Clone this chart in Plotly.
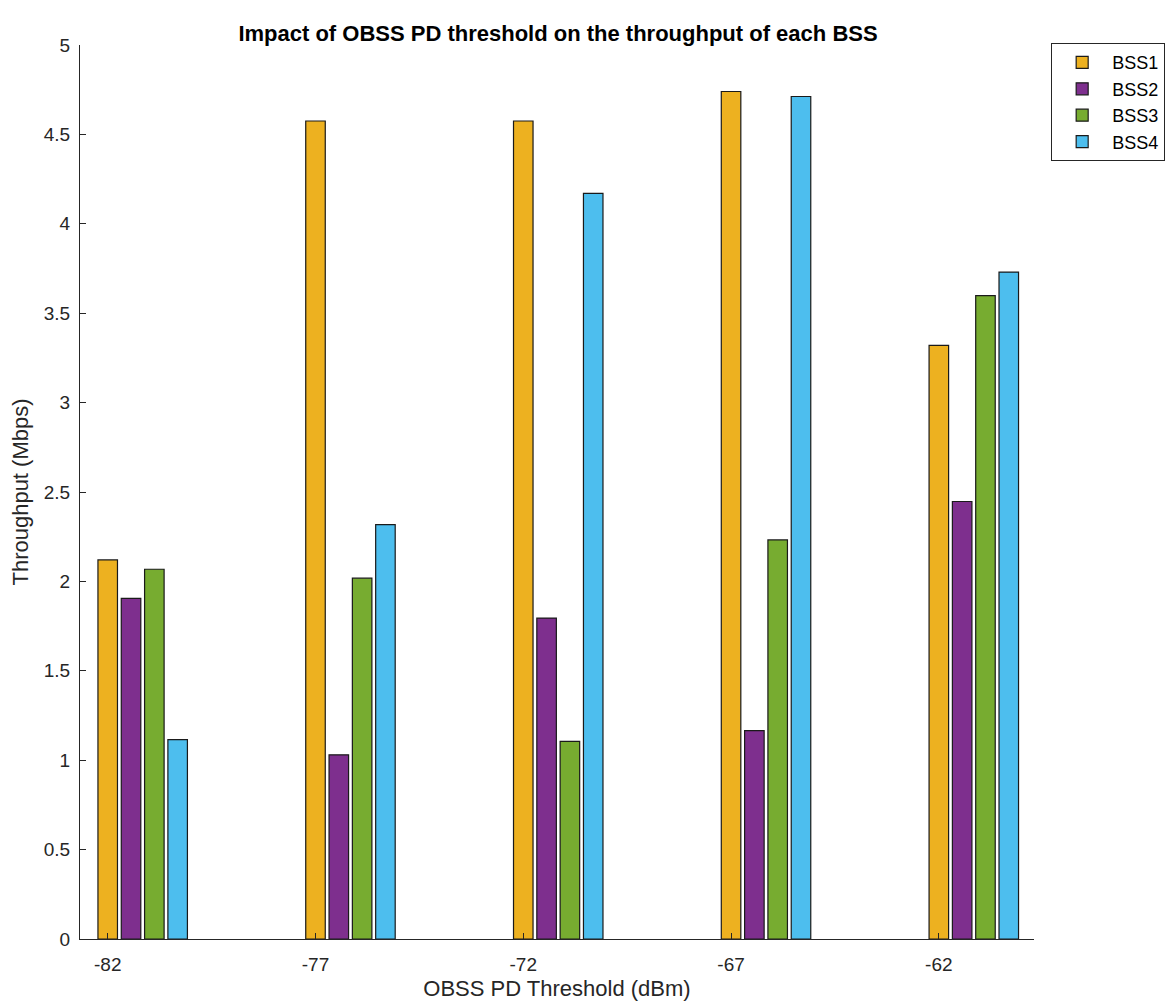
import plotly.graph_objects as go

thresholds = [-82, -77, -72, -67, -62]
tick_labels = ["-82", "-77", "-72", "-67", "-62"]
y_ticks = [0, 0.5, 1, 1.5, 2, 2.5, 3, 3.5, 4, 4.5, 5]
y_tick_labels = ["0", "0.5", "1", "1.5", "2", "2.5", "3", "3.5", "4", "4.5", "5"]
series_names = ["BSS1", "BSS2", "BSS3", "BSS4"]
bss1 = [2.12, 4.575, 4.575, 4.74, 3.32]
bss2 = [1.905, 1.03, 1.795, 1.165, 2.447]
bss3 = [2.068, 2.018, 1.105, 2.232, 3.598]
bss4 = [1.115, 2.318, 4.17, 4.712, 3.73]
colors = ["#EDB120", "#7E2F8E", "#77AC30", "#4DBEEE"]

series = [bss1, bss2, bss3, bss4]
pitch = 0.561
width = 0.47

fig = go.Figure()
for i, (name, vals, col) in enumerate(zip(series_names, series, colors)):
    fig.add_trace(go.Bar(
        x=thresholds, y=vals, name=name,
        marker=dict(color=col, line=dict(color="#1a1a1a", width=1.2)),
        width=width, offset=i * pitch - width / 2,
    ))

font_family = "Liberation Sans, Arial, Helvetica, sans-serif"
fig.update_layout(
    width=1173, height=1005,
    barmode="overlay",
    paper_bgcolor="white", plot_bgcolor="white",
    margin=dict(l=72, r=147, t=37, b=74),
    font=dict(family=font_family, color="#262626", size=19),
    title=dict(text="<b>Impact of OBSS PD threshold on the throughput of each BSS</b>",
               x=550 / 1173, xanchor="center", y=1 - 25 / 1005, yanchor="middle",
               font=dict(size=22, color="#000000", family=font_family)),
    xaxis=dict(range=[-82.667, -59.71], tickvals=thresholds, ticktext=tick_labels,
               showline=True, linecolor="#262626", linewidth=1.2, automargin=False,
               ticks="inside", ticklen=6, tickcolor="#262626", showgrid=False, zeroline=False,
               ticklabelstandoff=8,
               tickfont=dict(size=19), title=dict(text="OBSS PD Threshold (dBm)", font=dict(size=22), standoff=6)),
    yaxis=dict(range=[0, 5], tickvals=y_ticks, ticktext=y_tick_labels,
               showline=True, linecolor="#262626", linewidth=1.2, automargin=False,
               ticks="inside", ticklen=6, tickcolor="#262626", showgrid=False, zeroline=False,
               ticklabelstandoff=5,
               tickfont=dict(size=19), title=dict(text="Throughput (Mbps)", font=dict(size=22), standoff=8)),
    legend=dict(x=1.018, y=1.002, xanchor="left", yanchor="top",
                bordercolor="#262626", borderwidth=1, bgcolor="white",
                font=dict(size=18, color="#000000"), itemwidth=50, tracegroupgap=0),
    showlegend=True,
)

fig.write_html("out.html")
